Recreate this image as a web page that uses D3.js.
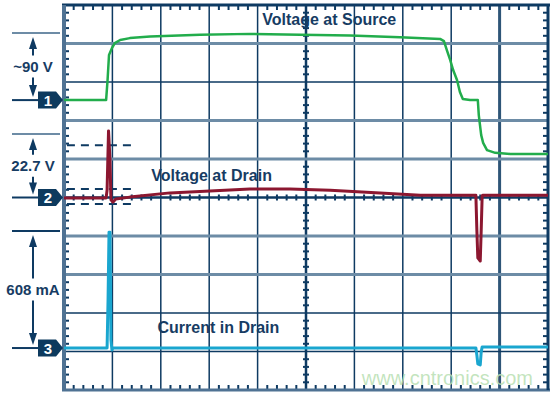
<!DOCTYPE html>
<html>
<head>
<meta charset="utf-8">
<script src="https://cdn.jsdelivr.net/npm/d3@7"></script>
<style>
  body { margin: 0; background: #fff; }
  svg { display: block; font-family: "Liberation Sans", Arial, sans-serif; }
</style>
</head>
<body>
<svg id="scope" width="553" height="394"></svg>
<script>
// time in divisions (0..10), amplitude in divisions (-5..5, 0 = centre line)
const sourceT = [0, 0.87, 0.9, 0.93, 0.99, 1.05, 1.16, 1.36, 1.78, 2.81, 3.84, 4.88, 5.91, 6.94, 7.77, 7.85, 7.91, 7.98, 8.04, 8.12, 8.18, 8.24, 8.39, 8.55, 8.57, 8.62, 8.66, 8.74, 8.91, 9.22, 10];
const sourceV = [2.53, 2.53, 3.05, 3.70, 3.88, 4.01, 4.09, 4.14, 4.18, 4.23, 4.25, 4.23, 4.21, 4.16, 4.12, 4.06, 3.83, 3.57, 3.31, 3.05, 2.74, 2.56, 2.53, 2.53, 2.14, 1.62, 1.42, 1.23, 1.16, 1.13, 1.13];

const drainT = [0, 0.87, 0.89, 0.92, 0.95, 0.97, 1.01, 1.07, 1.36, 2.19, 3.84, 4.67, 5.5, 6.53, 7.36, 8.51, 8.53, 8.55, 8.6, 8.62, 8.64, 8.66, 10];
const drainV = [-0.01, -0.01, 0.19, 1.73, 0.97, -0.06, -0.12, -0.04, 0.01, 0.12, 0.22, 0.22, 0.19, 0.12, 0.06, 0.06, -0.84, -1.57, -1.65, -0.84, 0.05, 0.06, 0.06];

const currentT = [0, 0.89, 0.91, 0.93, 0.95, 0.97, 0.99, 1.01, 8.51, 8.53, 8.55, 8.6, 8.62, 8.64, 10];
const currentV = [-3.91, -3.91, -2.66, -0.9, -0.9, -3.7, -3.96, -3.91, -3.91, -4.09, -4.32, -4.35, -4.01, -3.88, -3.88];

const cursorLevels = [1.36, 0.22, -0.17];

const channelNames = ['1', '2', '3'];
const channelLevels = [2.53, 0, -3.91];
const channelTops = [4.27, 1.65, -0.87];
const channelScales = ['~90 V', '22.7 V', '608 mA'];

const traceLabels = ['Voltage at Source', 'Voltage at Drain', 'Current in Drain'];
const traceLabelPos = [[5.48, 4.49], [3.05, 0.43], [3.19, -3.52]];

const hLineKinds = ['gray', 'dark', 'gray', 'gray', 'axis', 'gray', 'gray', 'dark', 'dark'];

const svg = d3.select('#scope');
const x = d3.scaleLinear().domain([0, 10]).range([64, 548]);
const y = d3.scaleLinear().domain([-5, 5]).range([390, 5]);

const navy = '#0e3a62';
const slate = '#6d8ca6';

// grid
const grid = svg.append('g');
grid.selectAll('.v').data(d3.range(1, 10)).join('line')
    .attr('x1', d => x(d)).attr('x2', d => x(d))
    .attr('y1', y(5)).attr('y2', y(-5))
    .attr('stroke', d => d === 9 ? '#2e5577' : navy)
    .attr('stroke-width', d => d === 5 ? 2.5 : (d === 9 ? 3 : 1.5));
grid.selectAll('.h').data(d3.range(4, -5, -1)).join('line')
    .attr('x1', x(0)).attr('x2', x(10))
    .attr('y1', d => y(d)).attr('y2', d => y(d))
    .attr('stroke', (d, i) => hLineKinds[i] === 'gray' ? slate : navy)
    .attr('stroke-width', (d, i) => hLineKinds[i] === 'gray' ? 3 : (hLineKinds[i] === 'axis' ? 2.5 : 1.5));

// minor ticks: border and centre axes
const ticks = svg.append('g').attr('stroke', navy).attr('stroke-width', 2);
const xMinor = d3.range(0.2, 10, 0.2).filter(d => Math.abs(d - Math.round(d)) > 0.01);
const yMinor = d3.range(-4.8, 5, 0.2).filter(d => Math.abs(d - Math.round(d)) > 0.01);
xMinor.forEach(t => {
    ticks.append('line').attr('x1', x(t)).attr('x2', x(t)).attr('y1', y(5)).attr('y2', y(5) + 5);
    ticks.append('line').attr('x1', x(t)).attr('x2', x(t)).attr('y1', y(-5)).attr('y2', y(-5) - 5);
    ticks.append('line').attr('x1', x(t)).attr('x2', x(t)).attr('y1', y(0) - 3).attr('y2', y(0) + 3);
});
yMinor.forEach(v => {
    ticks.append('line').attr('x1', x(0)).attr('x2', x(0) + 5).attr('y1', y(v)).attr('y2', y(v));
    ticks.append('line').attr('x1', x(10)).attr('x2', x(10) - 5).attr('y1', y(v)).attr('y2', y(v));
    ticks.append('line').attr('x1', x(5) - 3).attr('x2', x(5) + 3).attr('y1', y(v)).attr('y2', y(v));
});

// frame
svg.append('line').attr('x1', x(0) - 2).attr('x2', x(10) + 2).attr('y1', y(5)).attr('y2', y(5))
    .attr('stroke', navy).attr('stroke-width', 3);
svg.append('line').attr('x1', x(0) - 2).attr('x2', x(10) + 2).attr('y1', y(-5)).attr('y2', y(-5))
    .attr('stroke', '#4f7293').attr('stroke-width', 3);
svg.append('line').attr('x1', x(0)).attr('x2', x(0)).attr('y1', y(5)).attr('y2', y(-5))
    .attr('stroke', '#4f7293').attr('stroke-width', 4);
svg.append('line').attr('x1', x(10)).attr('x2', x(10)).attr('y1', y(5)).attr('y2', y(-5))
    .attr('stroke', navy).attr('stroke-width', 3);

// cursor dashes for channel 2
svg.selectAll('.cursor').data(cursorLevels).join('line')
    .attr('x1', x(0.06)).attr('x2', x(1.5))
    .attr('y1', d => y(d)).attr('y2', d => y(d))
    .attr('stroke', navy).attr('stroke-width', 2).attr('stroke-dasharray', '8,6');

// watermark
svg.append('text').attr('x', 533).attr('y', 385).attr('text-anchor', 'end')
    .attr('font-size', 20).attr('fill', '#b9dfb3').attr('fill-opacity', 0.85)
    .text('www.cntronics.com');

// traces
const line = d3.line().x(d => x(d[0])).y(d => y(d[1]));
const traces = [
    { t: sourceT, v: sourceV, color: '#22ad4c', w: 2.5 },
    { t: drainT, v: drainV, color: '#8c1730', w: 3 },
    { t: currentT, v: currentV, color: '#1aa6cf', w: 3 }
];
traces.forEach(tr => {
    svg.append('path')
        .datum(d3.zip(tr.t, tr.v))
        .attr('d', line)
        .attr('fill', 'none')
        .attr('stroke', tr.color)
        .attr('stroke-width', tr.w)
        .attr('stroke-linejoin', 'round');
});

// trace labels
svg.selectAll('.tlabel').data(traceLabels).join('text')
    .attr('x', (d, i) => x(traceLabelPos[i][0]))
    .attr('y', (d, i) => y(traceLabelPos[i][1]))
    .attr('text-anchor', 'middle')
    .attr('font-size', 16).attr('font-weight', 'bold').attr('fill', '#173c63')
    .text(d => d);

// channel markers and scale arrows
const ann = svg.append('g');
channelNames.forEach((name, i) => {
    const yb = y(channelLevels[i]);
    const yt = y(channelTops[i]);
    const ym = (yb + yt) / 2;
    ann.append('line').attr('x1', 12).attr('x2', 60).attr('y1', yt).attr('y2', yt)
        .attr('stroke', i === 2 ? navy : slate).attr('stroke-width', 2);
    ann.append('line').attr('x1', 12).attr('x2', 40).attr('y1', yb).attr('y2', yb)
        .attr('stroke', navy).attr('stroke-width', 2);
    ann.append('path')
        .attr('d', `M38,${yb - 8.5}H56L63,${yb}L56,${yb + 8.5}H38Z`)
        .attr('fill', '#0d3a5e');
    ann.append('text').attr('x', 48).attr('y', yb + 5.5).attr('text-anchor', 'middle')
        .attr('font-size', 15).attr('font-weight', 'bold').attr('fill', '#fff').text(name);
    // arrows
    const ax = 33;
    ann.append('path').attr('d', `M${ax},${yt + 4}L${ax + 4},${yt + 16}H${ax - 4}Z`).attr('fill', navy);
    ann.append('path').attr('d', `M${ax},${yb - 3}L${ax + 4},${yb - 15}H${ax - 4}Z`).attr('fill', navy);
    ann.append('line').attr('x1', ax).attr('x2', ax).attr('y1', yt + 14).attr('y2', ym - 11)
        .attr('stroke', navy).attr('stroke-width', 2);
    ann.append('line').attr('x1', ax).attr('x2', ax).attr('y1', ym + 11).attr('y2', yb - 13)
        .attr('stroke', navy).attr('stroke-width', 2);
    ann.append('text').attr('x', ax).attr('y', ym + 5.5).attr('text-anchor', 'middle')
        .attr('font-size', 15).attr('font-weight', 'bold').attr('fill', '#173c63')
        .text(channelScales[i]);
});
</script>
</body>
</html>
